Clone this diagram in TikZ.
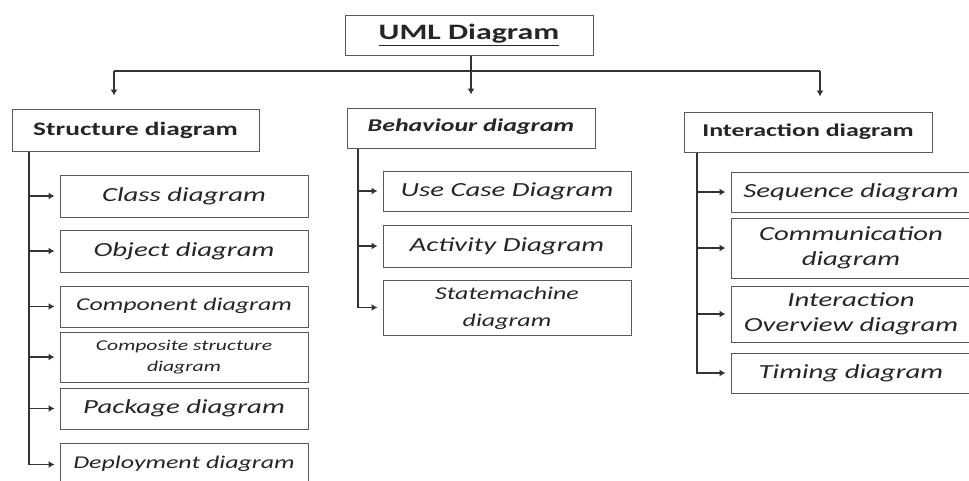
\documentclass[tikz,border=0pt]{standalone}
\usepackage{fontspec}
\setmainfont{Carlito}
\usetikzlibrary{arrows.meta}
\newcommand{\ctxt}[3]{\scalebox{1.44}[1]{\fontsize{#1}{#2}\selectfont\itshape\begin{tabular}{@{}c@{}}#3\end{tabular}}}
\newcommand{\htxt}[2]{\scalebox{1.44}[1]{\fontsize{#1}{#1}\selectfont\bfseries #2}}
\begin{document}
\begin{tikzpicture}[x=1pt,y=-1pt,
  box/.style={draw=black!65, line width=1pt, inner sep=0pt, text=black!85},
  cbox/.style 2 args={box, minimum width=#1pt, minimum height=#2pt},
  conn/.style={draw=black!80, line width=1.1pt},
  arr/.style={conn, -{Latex[length=6pt,width=7pt]}}]
\useasboundingbox (0,0) rectangle (969,480);
\clip (0,0) rectangle (969,480);
\fill[white] (0,0) rectangle (969,480);
% top
\node[cbox={248}{40}] (uml) at (469,35) {\scalebox{1.45}[1]{\fontsize{22}{26}\selectfont\bfseries\underline{UML Diagram}}};
\node[cbox={247}{42}] (struct) at (135.5,130) {\raisebox{2pt}{\htxt{19}{Structure diagram}}};
\node[cbox={248}{40}] (behav) at (471,128) {\raisebox{6pt}{\htxt{18}{\itshape Behaviour diagram}}};
\node[cbox={248}{40}] (inter) at (808,132) {\raisebox{4pt}{\htxt{18}{Interaction diagram}}};
% structure children
\node[cbox={248}{42}] (class) at (184,196) {\ctxt{20}{25}{Class diagram}};
\node[cbox={248}{42}] (object) at (184,251) {\ctxt{20}{25}{Object diagram}};
\node[cbox={248}{41}] (comp) at (184,306.5) {\ctxt{18}{22}{Component diagram}};
\node[cbox={248}{50}] (csd) at (184,357) {\ctxt{15}{21}{Composite structure\\diagram}};
\node[cbox={248}{41}] (pack) at (184,408.5) {\ctxt{20}{25}{Package diagram}};
\node[cbox={248}{43}] (deploy) at (184,464.5) {\raisebox{2pt}{\ctxt{18}{22}{Deployment diagram}}};
% behaviour children
\node[cbox={248}{40}] (usecase) at (507,191) {\ctxt{20}{25}{Use Case Diagram}};
\node[cbox={248}{42}] (activity) at (507,246) {\ctxt{20}{25}{Activity Diagram}};
\node[cbox={248}{55}] (state) at (507,307.5) {\ctxt{18}{27}{Statemachine\\diagram}};
% interaction children
\node[cbox={240}{40}] (seq) at (851,192) {\ctxt{20}{25}{Sequence diagram}};
\node[cbox={240}{60}] (commu) at (851,248) {\ctxt{20}{25}{Communication\\diagram}};
\node[cbox={240}{56}] (overview) at (851,314) {\ctxt{20}{25}{Interaction\\Overview diagram}};
\node[cbox={240}{40}] (timing) at (851,373) {\ctxt{20}{25}{Timing diagram}};
% top connectors
\coordinate (jL) at (114,71);
\coordinate (jM) at (471,71);
\coordinate (jR) at (820,71);
\draw[conn] (jL) -- (jR);
\draw[arr, shorten >=13pt] (uml.south -| jM) -- (jM |- behav.north);
\draw[arr, shorten >=13pt] (jL) -- (jL |- struct.north);
\draw[arr, shorten >=15pt] (jR) -- (jR |- inter.north);
% structure trunk
\coordinate (sT) at (29,0);
\draw[arr, shorten >=5pt] (struct.south -| sT) |- (deploy.west);
\foreach \n in {class,object,comp,csd,pack}
  \draw[arr, shorten >=5pt] (sT |- \n.west) -- (\n.west);
% behaviour trunk
\coordinate (bT) at (358,0);
\draw[arr, shorten >=5pt] (behav.south -| bT) |- (state.west);
\foreach \n in {usecase,activity}
  \draw[arr, shorten >=5pt] (bT |- \n.west) -- (\n.west);
% interaction trunk
\coordinate (iT) at (697,0);
\draw[arr, shorten >=5pt] (inter.south -| iT) |- (timing.west);
\foreach \n in {seq,commu,overview}
  \draw[arr, shorten >=5pt] (iT |- \n.west) -- (\n.west);
\end{tikzpicture}
\end{document}
